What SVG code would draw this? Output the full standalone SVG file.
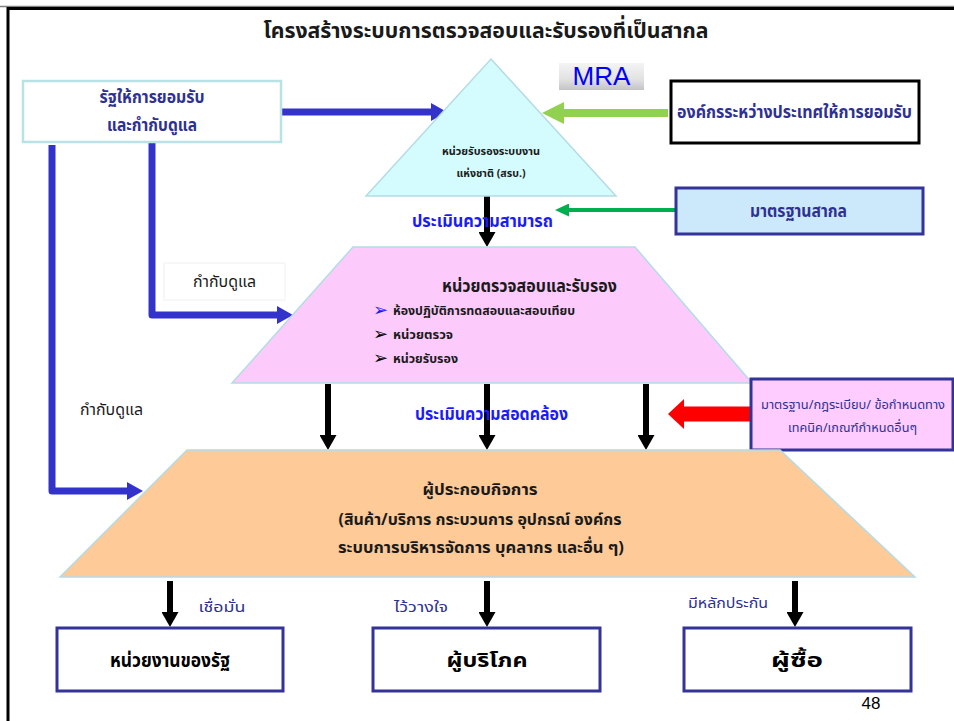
<svg xmlns="http://www.w3.org/2000/svg" width="954" height="721" viewBox="0 0 954 721">
  <defs>
    <style>
      .th { font-family: "Noto Sans Thai", "Noto Serif Thai", "Noto Sans", "DejaVu Sans", sans-serif; }
      .b { font-weight: bold; }
      .navy { fill: #2e3192; }
      .blue { fill: #1a1aff; }
      .dark { fill: #1a1a1a; }
      .shape { stroke: #b4dce4; stroke-width: 1.5; }
      .navybox { fill: #ffffff; stroke: #333399; stroke-width: 3; }
      .blueline { fill: none; stroke: #3333cc; stroke-width: 7; stroke-linejoin: round; }
      .blackline { fill: none; stroke: #000000; stroke-width: 6; }
      .bullet { font-family: "DejaVu Sans", sans-serif; font-size: 18px; }
    </style>
    <linearGradient id="mraFill" x1="0" y1="0" x2="0" y2="1">
      <stop offset="0" stop-color="#f4f4f4"/>
      <stop offset="0.6" stop-color="#e2e2e2"/>
      <stop offset="1" stop-color="#c4c4c4"/>
    </linearGradient>
    <marker id="headBlue" markerUnits="userSpaceOnUse" markerWidth="16" markerHeight="18" refX="1" refY="9" orient="auto">
      <path d="M0,0 L16,9 L0,18 z" fill="#3333cc"/>
    </marker>
    <marker id="headBlack" markerUnits="userSpaceOnUse" markerWidth="15" markerHeight="17" refX="1" refY="8.5" orient="auto">
      <path d="M0,0 L15,8.5 L0,17 z" fill="#000000"/>
    </marker>
    <marker id="headLime" markerUnits="userSpaceOnUse" markerWidth="22" markerHeight="22" refX="1" refY="11" orient="auto">
      <path d="M0,0 L22,11 L0,22 z" fill="#92d050"/>
    </marker>
    <marker id="headGreen" markerUnits="userSpaceOnUse" markerWidth="14" markerHeight="13" refX="1" refY="6.5" orient="auto">
      <path d="M0,0 L14,6.5 L0,13 z" fill="#00b050"/>
    </marker>
    <marker id="headRed" markerUnits="userSpaceOnUse" markerWidth="16" markerHeight="30" refX="1" refY="15" orient="auto">
      <path d="M0,0 L16,15 L0,30 z" fill="#ff0000"/>
    </marker>
  </defs>

  <rect width="954" height="721" fill="#ffffff"/>

  <!-- page frame -->
  <path d="M0,6.5 H954" stroke="#808080" stroke-width="1.5" fill="none"/>
  <path d="M8,721 V8.5 H954" stroke="#000000" stroke-width="3" fill="none"/>

  <!-- title -->
  <text class="th b dark" x="486" y="38" font-size="22" text-anchor="middle" textLength="445" lengthAdjust="spacingAndGlyphs">โครงสร้างระบบการตรวจสอบและรับรองที่เป็นสากล</text>

  <!-- connectors -->
  <g id="connectors">
    <path class="blueline" d="M281,112 H432" marker-end="url(#headBlue)"/>
    <path class="blueline" d="M152,142 V315 H278" marker-end="url(#headBlue)"/>
    <path class="blueline" d="M52,145 V491 H128" marker-end="url(#headBlue)"/>
    <path d="M668,113 H563" stroke="#92d050" stroke-width="8" fill="none" marker-end="url(#headLime)"/>
    <path d="M676,210 H568" stroke="#00b050" stroke-width="4" fill="none" marker-end="url(#headGreen)"/>
    <path d="M750,414 H683" stroke="#ff0000" stroke-width="15" fill="none" marker-end="url(#headRed)"/>
    <path class="blackline" d="M487,196 V233" marker-end="url(#headBlack)"/>
    <path class="blackline" d="M328,384 V436" marker-end="url(#headBlack)"/>
    <path class="blackline" d="M487,384 V436" marker-end="url(#headBlack)"/>
    <path class="blackline" d="M646,384 V436" marker-end="url(#headBlack)"/>
    <path class="blackline" d="M170,581 V613" marker-end="url(#headBlack)"/>
    <path class="blackline" d="M487,581 V613" marker-end="url(#headBlack)"/>
    <path class="blackline" d="M795,581 V613" marker-end="url(#headBlack)"/>
  </g>

  <!-- connector labels -->
  <g id="connector-labels">
    <rect x="164" y="263" width="121" height="37" fill="#ffffff" stroke="#f0f0f0" stroke-width="1"/>
    <text class="th dark" x="224.5" y="287" font-size="16" text-anchor="middle" textLength="63" lengthAdjust="spacingAndGlyphs">กำกับดูแล</text>
    <text class="th dark" x="111.5" y="415" font-size="16" text-anchor="middle" textLength="63" lengthAdjust="spacingAndGlyphs">กำกับดูแล</text>
    <text class="th b blue" x="482.5" y="227" font-size="17" text-anchor="middle" textLength="141" lengthAdjust="spacingAndGlyphs">ประเมินความสามารถ</text>
    <text class="th b blue" x="491.5" y="420" font-size="17" text-anchor="middle" textLength="153" lengthAdjust="spacingAndGlyphs">ประเมินความสอดคล้อง</text>
    <text class="th navy" x="222" y="612" font-size="14" text-anchor="middle" textLength="47" lengthAdjust="spacingAndGlyphs">เชื่อมั่น</text>
    <text class="th navy" x="421" y="612" font-size="14" text-anchor="middle" textLength="54" lengthAdjust="spacingAndGlyphs">ไว้วางใจ</text>
    <text class="th navy" x="728" y="608" font-size="14" text-anchor="middle" textLength="80" lengthAdjust="spacingAndGlyphs">มีหลักประกัน</text>
  </g>

  <!-- state recognition box -->
  <g id="state">
    <rect x="23" y="81" width="258" height="61" fill="#ffffff" stroke="#b8e2e6" stroke-width="2.5"/>
    <text class="th b navy" x="152" y="103" font-size="17" text-anchor="middle" textLength="105" lengthAdjust="spacingAndGlyphs">รัฐให้การยอมรับ</text>
    <text class="th b navy" x="152" y="131" font-size="17" text-anchor="middle" textLength="90" lengthAdjust="spacingAndGlyphs">และกำกับดูแล</text>
  </g>

  <!-- national accreditation body -->
  <g id="accreditation">
    <polygon class="shape" points="491,59 616,196 366,196" fill="#d4fbfd"/>
    <text class="th b dark" x="491" y="155" font-size="11" text-anchor="middle" textLength="98" lengthAdjust="spacingAndGlyphs">หน่วยรับรองระบบงาน</text>
    <text class="th b dark" x="491" y="177" font-size="11" text-anchor="middle" textLength="69" lengthAdjust="spacingAndGlyphs">แห่งชาติ (สรบ.)</text>
  </g>

  <!-- MRA badge -->
  <g id="mra">
    <rect x="559" y="63" width="85" height="27" fill="url(#mraFill)"/>
    <text x="601.5" y="85" font-family="Liberation Sans, Arial, sans-serif" font-size="26" fill="#0000ff" text-anchor="middle">MRA</text>
  </g>

  <!-- international body -->
  <g id="international">
    <rect x="671" y="81" width="248" height="62" fill="#ffffff" stroke="#000000" stroke-width="3"/>
    <text class="th b navy" x="794.5" y="118" font-size="17" text-anchor="middle" textLength="235" lengthAdjust="spacingAndGlyphs">องค์กรระหว่างประเทศให้การยอมรับ</text>
  </g>

  <!-- international standards -->
  <g id="standards">
    <rect x="676" y="188" width="247" height="46" fill="#cce9fb" stroke="#333399" stroke-width="3"/>
    <text class="th b navy" x="798.5" y="217" font-size="17" text-anchor="middle" textLength="97" lengthAdjust="spacingAndGlyphs">มาตรฐานสากล</text>
  </g>

  <!-- conformity assessment bodies -->
  <g id="cab">
    <polygon class="shape" points="353,247 635,247 752,383 232,383" fill="#fccbfc"/>
    <text class="th b dark" x="529.5" y="292" font-size="17" text-anchor="middle" textLength="175" lengthAdjust="spacingAndGlyphs">หน่วยตรวจสอบและรับรอง</text>
    <text class="bullet" x="373" y="316" fill="#1a1aff">➢</text>
    <text class="th b dark" x="393" y="315" font-size="12.5" textLength="182" lengthAdjust="spacingAndGlyphs">ห้องปฏิบัติการทดสอบและสอบเทียบ</text>
    <text class="bullet" x="373" y="340" fill="#000000">➢</text>
    <text class="th b dark" x="393" y="339" font-size="12.5" textLength="60" lengthAdjust="spacingAndGlyphs">หน่วยตรวจ</text>
    <text class="bullet" x="373" y="364" fill="#000000">➢</text>
    <text class="th b dark" x="393" y="363" font-size="12.5" textLength="65" lengthAdjust="spacingAndGlyphs">หน่วยรับรอง</text>
  </g>

  <!-- regulations box -->
  <g id="regulations">
    <rect x="751" y="379" width="202" height="71" fill="#ffccff" stroke="#333399" stroke-width="3"/>
    <text class="th navy" x="853" y="409" font-size="13" text-anchor="middle" textLength="184" lengthAdjust="spacingAndGlyphs">มาตรฐาน/กฎระเบียบ/ ข้อกำหนดทาง</text>
    <text class="th navy" x="852.5" y="432" font-size="13" text-anchor="middle" textLength="129" lengthAdjust="spacingAndGlyphs">เทคนิค/เกณฑ์กำหนดอื่นๆ</text>
  </g>

  <!-- operators -->
  <g id="operators">
    <polygon class="shape" points="187,450 780,450 915,577 60,577" fill="#fdca98"/>
    <text class="th b dark" x="480" y="495" font-size="16" text-anchor="middle" textLength="115" lengthAdjust="spacingAndGlyphs">ผู้ประกอบกิจการ</text>
    <text class="th b dark" x="480" y="525" font-size="16" text-anchor="middle" textLength="283" lengthAdjust="spacingAndGlyphs">(สินค้า/บริการ กระบวนการ อุปกรณ์ องค์กร</text>
    <text class="th b dark" x="481" y="553" font-size="16" text-anchor="middle" textLength="286" lengthAdjust="spacingAndGlyphs">ระบบการบริหารจัดการ บุคลากร และอื่น ๆ)</text>
  </g>

  <!-- beneficiaries -->
  <g id="government">
    <rect class="navybox" x="57" y="628" width="226" height="63"/>
    <text class="th b" x="170" y="667" font-size="19" text-anchor="middle" fill="#000" textLength="120" lengthAdjust="spacingAndGlyphs">หน่วยงานของรัฐ</text>
  </g>
  <g id="consumer">
    <rect class="navybox" x="373" y="628" width="227" height="63"/>
    <text class="th b" x="487" y="667" font-size="19" text-anchor="middle" fill="#000" textLength="81" lengthAdjust="spacingAndGlyphs">ผู้บริโภค</text>
  </g>
  <g id="buyer">
    <rect class="navybox" x="684" y="628" width="227" height="63"/>
    <text class="th b" x="797" y="667" font-size="19" text-anchor="middle" fill="#000" textLength="52" lengthAdjust="spacingAndGlyphs">ผู้ซื้อ</text>
  </g>

  <!-- page number -->
  <text x="871" y="709" font-family="Liberation Sans, Arial, sans-serif" font-size="17" fill="#000" text-anchor="middle">48</text>
</svg>
